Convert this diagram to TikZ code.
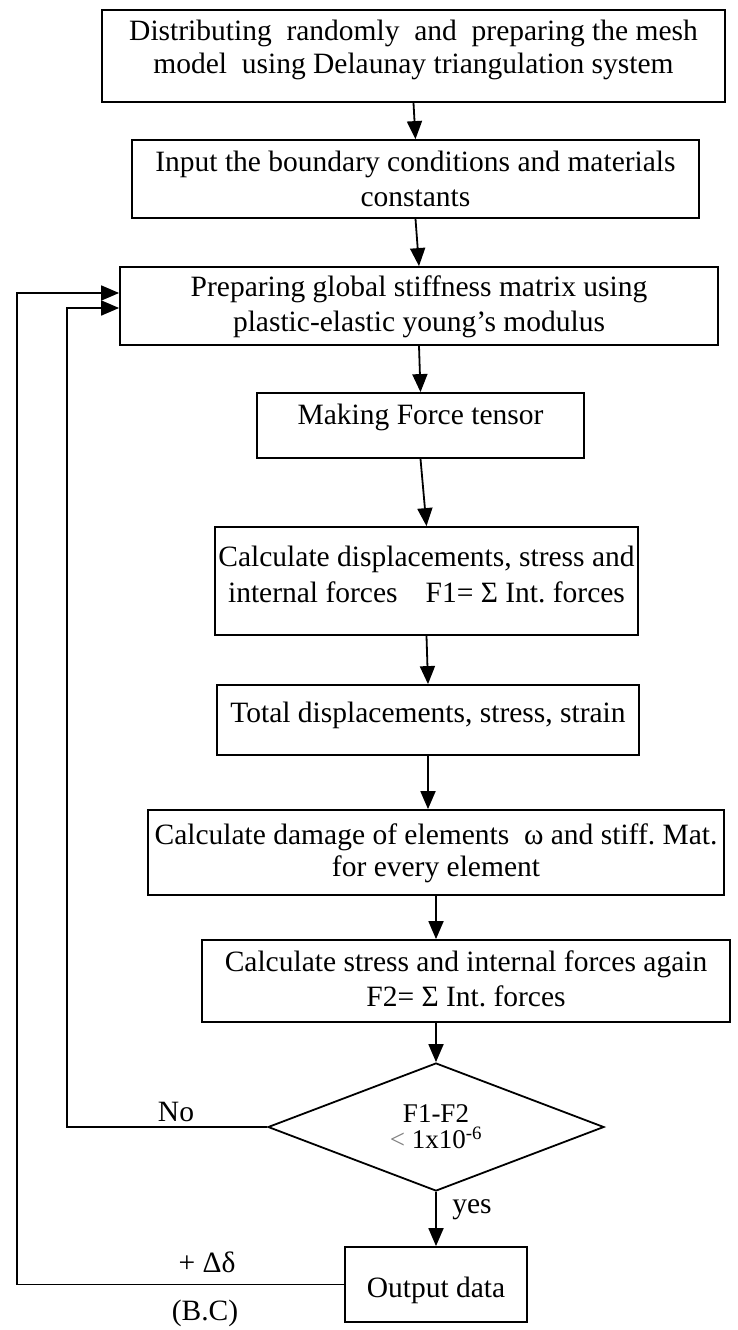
\documentclass[tikz,border=0pt]{standalone}
\usepackage{fontspec}
\setmainfont{Liberation Serif}
\usetikzlibrary{arrows.meta,shapes.geometric}
\frenchspacing
% box text: width, height, first-baseline depth, line pitch, text
\newcommand{\stagetext}[5]{\parbox[c][#2][t]{#1}{\fontsize{29.5pt}{#4}\selectfont\centering\rule{0pt}{#3}#5}}
\begin{document}
\begin{tikzpicture}[x=1pt,y=-1pt,
  stage/.style={draw, line width=1.8pt, inner sep=0pt},
  flow/.style={line width=1.8pt, -{Triangle[length=18pt,width=15pt]}},
  lbl/.style={font=\fontsize{29.5pt}{34pt}\selectfont, inner sep=0pt}]
\useasboundingbox (0,0) rectangle (738,1330);
\fill[white] (0,0) rectangle (738,1330);

% process steps
\node[stage] (b1) at (413.5,56) {\stagetext{623pt}{92pt}{31pt}{33pt}{Distributing\hspace{0.25em} randomly\hspace{0.25em} and\hspace{0.25em} preparing the mesh\\ model\hspace{0.25em} using Delaunay triangulation system}};
\node[stage] (b2) at (415.5,179) {\stagetext{567pt}{78pt}{31pt}{35pt}{Input the boundary conditions and materials\\ constants}};
\node[stage] (b3) at (419,306) {\stagetext{598pt}{78pt}{29pt}{35pt}{Preparing global stiffness matrix using\\ plastic-elastic young’s modulus}};
\node[stage] (b4) at (420.5,425.5) {\stagetext{327pt}{65pt}{31pt}{34pt}{Making Force tensor}};
\node[stage] (b5) at (426.5,581) {\stagetext{423pt}{108pt}{39pt}{36pt}{Calculate displacements, stress and\\ internal forces\hspace{0.7em} F1= Σ Int. forces}};
\node[stage] (b6) at (428,720) {\stagetext{422pt}{70pt}{37pt}{34pt}{Total displacements, stress, strain}};
\node[stage] (b7) at (436,852.5) {\stagetext{576pt}{85pt}{34pt}{32pt}{Calculate damage of elements\hspace{0.25em} ω and stiff. Mat.\\ for every element}};
\node[stage] (b8) at (466,981) {\stagetext{528pt}{82pt}{31pt}{35pt}{Calculate stress and internal forces again\\ F2= Σ Int. forces}};

% convergence test
\node[draw, diamond, line width=1.8pt, inner sep=0pt, minimum width=336pt,
  minimum height=128pt, aspect=2.6, align=center,
  font=\fontsize{27pt}{26pt}\selectfont] (dia) at (436,1127)
  {F1-F2\\ {\color{black!50}<} 1x10\textsuperscript{-6}};

\node[stage] (b9) at (436,1284.5) {\stagetext{182pt}{75pt}{50pt}{34pt}{Output data}};

% main flow
\draw[flow] (b1.south) -- (b2.north);
\draw[flow] (b2.south) -- (b3.north);
\draw[flow] (b3.south) -- (b4.north);
\draw[flow] (b4.south) -- (b5.north);
\draw[flow] (b5.south) -- (b6.north);
\draw[flow] (b6.south) -- (b6.south |- b7.north);
\draw[flow] (b7.south) -- (b7.south |- b8.north);
\draw[flow] (b8.south -| dia.north) -- (dia.north);
\draw[flow] (dia.south) -- (b9.north);

% iteration loop (not converged)
\coordinate (noTurn) at (67,1127);
\draw[flow] (dia.west) -- (noTurn) |- ([yshift=-2pt]b3.west);

% load increment loop
\coordinate (bcTurn) at (17,1284.5);
\draw[flow] (b9.west) -- (bcTurn) |- ([yshift=13pt]b3.west);

% labels
\node[lbl] (no) at (176,1112) {No};
\node[lbl] (yes) at (472,1210) {yes};
\node[lbl] (dd) at (207,1262) {+ Δδ};
\node[lbl] (bc) at (205,1313) {(B.C)};
\end{tikzpicture}
\end{document}
